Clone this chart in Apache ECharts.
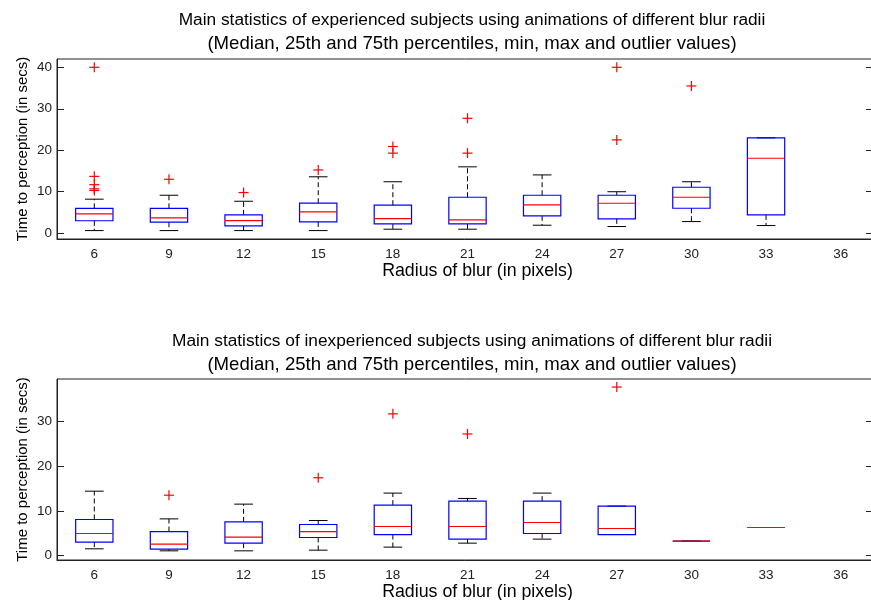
<!DOCTYPE html>
<html>
<head>
<meta charset="utf-8">
<script src="https://cdn.jsdelivr.net/npm/echarts@6/dist/echarts.min.js"></script>
<style>html,body{margin:0;padding:0;background:#fff}#c{width:871px;height:600px}</style>
</head>
<body>
<div id="c"></div>
<script>
const categories = ['6','9','12','15','18','21','24','27','30','33','36'];

// Experienced subjects
const expMin    = [0.63, 0.63, 0.63, 0.63, 0.96, 0.96, 1.92, 1.6, 2.8, 1.84, null];
const expQ1     = [3.0, 2.65, 1.76, 2.72, 2.24, 2.24, 4.17, 3.45, 6.02, 4.41, null];
const expMedian = [4.65, 3.69, 3.04, 5.13, 3.52, 3.2, 6.82, 7.22, 8.67, 18.07, null];
const expQ3     = [6.0, 6.0, 4.41, 7.23, 6.75, 8.67, 9.15, 9.15, 11.08, 23.0, null];
const expMax    = [8.2, 9.15, 7.7, 13.6, 12.4, 16.0, 14.05, 10.0, 12.4, 23.0, null];
const expOutlierCat = ['6','6','6','6','6','9','12','15','18','18','21','21','27','27','30'];
const expOutlierVal = [40, 13.7, 11.7, 10.7, 10.3, 13.0, 9.8, 15.25, 20.9, 19.3, 27.7, 19.3, 40, 22.5, 35.5];

// Inexperienced subjects
const inexpMin    = [1.5, 1.05, 1.05, 1.2, 1.88, 2.77, 3.67, 4.7, 3.22, 6.27, null];
const inexpQ1     = [3.0, 1.43, 2.77, 4.03, 4.7, 3.67, 4.93, 4.7, 3.22, 6.27, null];
const inexpMedian = [4.93, 2.55, 4.1, 5.37, 6.5, 6.5, 7.39, 6.05, 3.22, 6.27, null];
const inexpQ3     = [8.06, 5.37, 7.54, 6.94, 11.28, 12.18, 12.18, 11.06, 3.22, 6.27, null];
const inexpMax    = [14.4, 8.2, 11.5, 7.84, 13.97, 12.77, 13.97, 11.06, 3.22, 6.27, null];
const inexpOutlierCat = ['9','15','18','21','27'];
const inexpOutlierVal = [13.5, 17.4, 31.7, 27.2, 37.7];

const expTicks = [0, 10, 20, 30, 40];
const inexpTicks = [0, 10, 20, 30];

const FONT = '"Liberation Sans", Arial, sans-serif';

function boxData(mn, q1, md, q3, mx) {
  const out = [];
  for (let i = 0; i < categories.length; i++) {
    if (md[i] == null) continue;
    out.push([i, mn[i], q1[i], md[i], q3[i], mx[i]]);
  }
  return out;
}
function outlierData(cats, vals) {
  return cats.map((c, k) => [categories.indexOf(c), vals[k]]);
}

function renderBox(params, api) {
  const i = api.value(0);
  const pMin = api.coord([i, api.value(1)]);
  const pQ1 = api.coord([i, api.value(2)]);
  const pMed = api.coord([i, api.value(3)]);
  const pQ3 = api.coord([i, api.value(4)]);
  const pMax = api.coord([i, api.value(5)]);
  const bw = api.size([1, 0])[0];
  const hb = bw / 4, hc = bw / 8;
  const x = pMed[0];
  const dash = { stroke: '#000', lineWidth: 1, lineDash: [5, 3] };
  const solid = { stroke: '#000', lineWidth: 1 };
  return {
    type: 'group',
    children: [
      { type: 'line', shape: { x1: x, y1: pQ3[1], x2: x, y2: pMax[1] }, style: dash },
      { type: 'line', shape: { x1: x, y1: pQ1[1], x2: x, y2: pMin[1] }, style: dash },
      { type: 'line', shape: { x1: x - hc, y1: pMax[1], x2: x + hc, y2: pMax[1] }, style: solid },
      { type: 'line', shape: { x1: x - hc, y1: pMin[1], x2: x + hc, y2: pMin[1] }, style: solid },
      { type: 'rect', shape: { x: x - hb, y: pQ3[1], width: 2 * hb, height: pQ1[1] - pQ3[1] },
        style: { fill: 'none', stroke: '#0000ff', lineWidth: 1.2 } },
      { type: 'line', shape: { x1: x - hb, y1: pMed[1], x2: x + hb, y2: pMed[1] },
        style: { stroke: '#ff0000', lineWidth: 1.2 } }
    ]
  };
}
function renderPlus(params, api) {
  const p = api.coord([api.value(0), api.value(1)]);
  const s = 5;
  const st = { stroke: '#ff0000', lineWidth: 1.2 };
  return {
    type: 'group',
    children: [
      { type: 'line', shape: { x1: p[0] - s, y1: p[1], x2: p[0] + s, y2: p[1] }, style: st },
      { type: 'line', shape: { x1: p[0], y1: p[1] - s, x2: p[0], y2: p[1] + s }, style: st }
    ]
  };
}

const titleStyle = {
  fontFamily: FONT, fontWeight: 'normal', color: '#000',
  rich: {
    a: { fontFamily: FONT, fontSize: 17.3, color: '#000', lineHeight: 24 },
    b: { fontFamily: FONT, fontSize: 18.6, color: '#000', lineHeight: 24 }
  }
};

function xAxisFor(gi) {
  return {
    type: 'category', gridIndex: gi, data: categories, boundaryGap: true,
    axisLine: { show: true, onZero: false, lineStyle: { color: '#222', width: 1 } },
    axisTick: { show: false },
    axisLabel: { fontFamily: FONT, fontSize: 13.5, color: '#222', margin: 8 },
    splitLine: { show: false },
    name: 'Radius of blur (in pixels)', nameLocation: 'middle', nameGap: 23, nameMoveOverlap: false,
    nameTextStyle: { fontFamily: FONT, fontSize: 17.8, color: '#000', padding: [0, 0, 0, 20] }
  };
}
function yAxisFor(gi, mn, mx, ticks) {
  return [{
    type: 'value', gridIndex: gi, min: mn, max: mx, position: 'left',
    axisLine: { show: true, lineStyle: { color: '#222', width: 1 } },
    axisTick: { show: true, inside: true, length: 7, customValues: ticks, lineStyle: { color: '#222' } },
    axisLabel: { fontFamily: FONT, fontSize: 13.5, color: '#222', margin: 5, customValues: ticks },
    splitLine: { show: false },
    name: 'Time to perception (in secs)', nameLocation: 'middle', nameGap: 27, nameMoveOverlap: false,
    nameTextStyle: { fontFamily: FONT, fontSize: 15, color: '#000' }
  }, {
    type: 'value', gridIndex: gi, min: mn, max: mx, position: 'right',
    axisLine: { show: false },
    axisTick: { show: true, inside: true, length: 12, customValues: ticks, lineStyle: { color: '#222' } },
    axisLabel: { show: false },
    splitLine: { show: false }
  }];
}

const option = {
  animation: false,
  backgroundColor: '#fff',
  title: [
    { text: '{a|Main statistics of experienced subjects using animations of different blur radii}\n{b|(Median, 25th and 75th percentiles, min, max and outlier values)}',
      left: 467, top: 3, textAlign: 'center', textStyle: titleStyle },
    { text: '{a|Main statistics of inexperienced subjects using animations of different blur radii}\n{b|(Median, 25th and 75th percentiles, min, max and outlier values)}',
      left: 467, top: 324, textAlign: 'center', textStyle: titleStyle }
  ],
  grid: [
    { left: 57, width: 821, top: 59, height: 180, outerBoundsMode: 'none', containLabel: false,
      show: true, borderColor: '#222', borderWidth: 1, backgroundColor: 'transparent' },
    { left: 57, width: 821, top: 379, height: 181, outerBoundsMode: 'none', containLabel: false,
      show: true, borderColor: '#222', borderWidth: 1, backgroundColor: 'transparent' }
  ],
  xAxis: [xAxisFor(0), xAxisFor(1)],
  yAxis: [].concat(yAxisFor(0, -1.4, 42, expTicks), yAxisFor(1, -1, 39.5, inexpTicks)),
  series: [
    { type: 'custom', xAxisIndex: 0, yAxisIndex: 0, renderItem: renderBox,
      encode: { x: 0, y: [1, 2, 3, 4, 5] },
      data: boxData(expMin, expQ1, expMedian, expQ3, expMax) },
    { type: 'custom', xAxisIndex: 0, yAxisIndex: 0, renderItem: renderPlus,
      encode: { x: 0, y: 1 }, data: outlierData(expOutlierCat, expOutlierVal) },
    { type: 'custom', xAxisIndex: 1, yAxisIndex: 2, renderItem: renderBox,
      encode: { x: 0, y: [1, 2, 3, 4, 5] },
      data: boxData(inexpMin, inexpQ1, inexpMedian, inexpQ3, inexpMax) },
    { type: 'custom', xAxisIndex: 1, yAxisIndex: 2, renderItem: renderPlus,
      encode: { x: 0, y: 1 }, data: outlierData(inexpOutlierCat, inexpOutlierVal) }
  ]
};

const chart = echarts.init(document.getElementById('c'), null, { renderer: 'canvas' });
chart.setOption(option);
</script>
</body>
</html>
